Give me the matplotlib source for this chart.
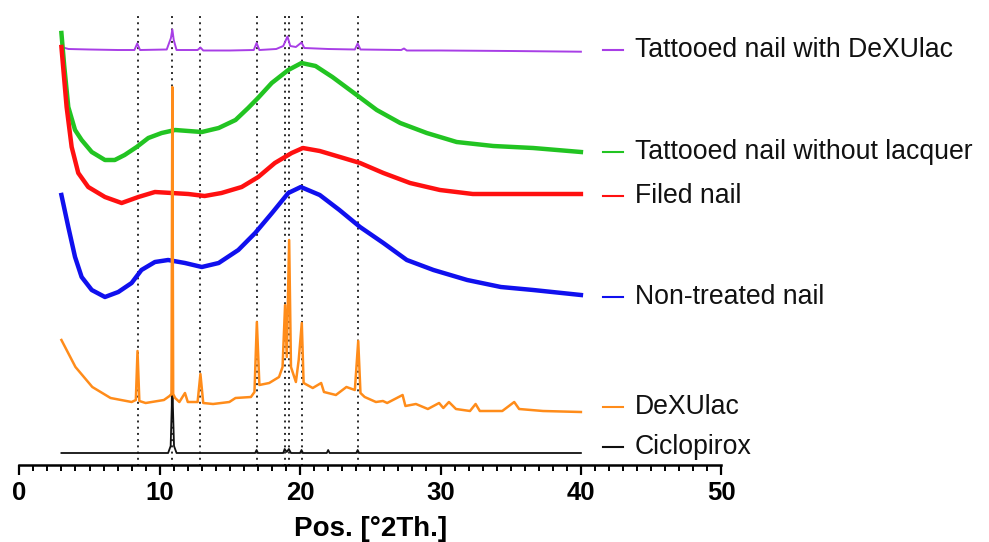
import matplotlib
matplotlib.use("Agg")
import matplotlib.pyplot as plt
from matplotlib.ticker import MultipleLocator

plt.rcParams['font.family'] = ['Liberation Sans', 'DejaVu Sans']

# stacked XRD patterns, intensity offsets in arbitrary units
purple_x = [3.0, 3.5, 5, 7, 8.2, 8.4, 8.6, 10.5, 10.8, 10.9, 11.0, 11.2, 12.7, 12.9, 13.1,
            15, 16.7, 16.9, 17.1, 18.3, 18.8, 19.1, 19.3, 19.7, 20.1, 20.3, 22, 23.9, 24.1,
            24.3, 27.2, 27.4, 27.6, 30, 35, 40]
purple_y = [419, 417, 416.5, 416, 416, 422.5, 416, 416.5, 428, 436.5, 426, 416, 416,
            418.5, 415.5, 415.5, 416, 423, 416, 417, 420, 429.5, 420, 419, 423.5, 418,
            417, 416.5, 422.5, 416.5, 416, 417.5, 415.5, 415.5, 415, 414.3]

green_x = [3.0, 3.2, 3.49, 3.97, 4.44, 5.16, 6.1, 6.8, 7.5, 8.36, 9.19, 10.14, 11.1, 12.04,
           13.0, 14.2, 15.4, 16.3, 17.0, 17.98, 19.16, 20.1, 21.1, 22.3, 24.03, 25.46, 27.13,
           29.02, 31.15, 33.76, 36.6, 40]
green_y = [433, 400, 359, 336, 326, 314, 306, 306, 311, 319, 328, 333, 336, 335,
           334, 338, 346, 358, 368, 383, 396, 403, 400, 389, 371, 356, 343,
           333, 324, 320, 318, 314]

red_x = [3.0, 3.37, 3.73, 4.2, 4.91, 6.1, 7.29, 8.48, 9.66, 10.85, 12.04, 13.2, 14.4, 15.84,
         17.02, 18.2, 19.4, 20.2, 21.4, 23.08, 24.27, 25.93, 27.83, 29.96, 32.3, 35.4, 40]
red_y = [419, 359, 319, 293, 279, 269, 263, 269, 274, 273, 272, 270, 273, 279,
         289, 303, 313, 318, 315, 308, 303, 293, 283, 276, 272, 272, 272]

blue_x = [3.0, 3.49, 3.97, 4.44, 5.16, 6.1, 7.05, 8.0, 8.7, 9.66, 10.6, 11.8, 13.0, 14.2,
          15.6, 16.8, 18.0, 19.16, 20.05, 21.4, 22.8, 24.27, 25.93, 27.6, 29.5, 31.9, 34.3,
          36.6, 40]
blue_y = [271, 239, 209, 189, 176, 169, 174, 183, 196, 204, 206, 203, 199, 203,
          216, 233, 253, 273, 279, 271, 256, 239, 223, 206, 196, 186, 179,
          176, 171]

dexulac_x = [3.0, 4.0, 5.2, 6.5, 8.0, 8.3, 8.42, 8.55, 9.0, 10.3, 10.7, 10.84, 10.9, 10.96,
             11.1, 11.4, 11.8, 12.0, 12.7, 12.9, 13.1, 13.8, 14.96, 15.4, 16.5, 16.75, 16.92,
             17.1, 17.8, 18.5, 18.75, 18.93, 19.05, 19.22, 19.35, 19.7, 19.9, 20.12, 20.25,
             20.9, 21.5, 21.7, 22.55, 23.3, 23.9, 24.14, 24.3, 24.6, 25.4, 25.9, 26.2, 27.3,
             27.5, 28.25, 29.1, 29.9, 30.2, 30.6, 31.1, 32.1, 32.5, 32.8, 34.4, 35.25, 35.6,
             37.3, 40]
dexulac_y = [126, 99, 79, 68, 64, 66, 115, 65, 63, 66, 70, 72, 379, 72,
             68, 64, 73, 64, 64, 92, 63, 62, 64, 68, 69, 74, 144,
             81, 83, 89, 99, 161, 109, 226, 99, 84, 106, 143, 83,
             78, 83, 74, 71, 79, 76, 125, 73, 69, 64, 65, 63, 71,
             60, 62, 57, 63, 58, 64, 57, 55, 62, 55, 55, 64, 57,
             55, 54]

cpx_x = [3.0, 10.6, 10.78, 10.86, 10.9, 10.94, 11.02, 11.2, 16.8, 16.9, 17.0, 18.8, 18.9,
         19.05, 19.2, 19.35, 20.0, 20.1, 20.2, 21.9, 22.0, 22.1, 24.0, 24.1, 24.2, 40]
cpx_y = [13, 13, 20, 60, 200, 60, 20, 13, 13, 16, 13, 13, 17,
         14, 17, 13, 13, 16, 13, 13, 16, 13, 13, 16, 13, 13]

ref_peaks = [8.42, 10.91, 12.9, 16.92, 18.93, 19.23, 20.12, 24.14]

names = ["Tattooed nail with DeXUlac", "Tattooed nail without lacquer", "Filed nail",
         "Non-treated nail", "DeXUlac", "Ciclopirox"]
label_y = [416, 314, 270, 169, 59, 19]
colors = ["#a83ee6", "#22c422", "#ff1010", "#1010ee", "#ff8c1a", "#101010"]

fig = plt.figure(figsize=(9.89, 5.42), dpi=100)
ax = fig.add_axes([19.3 / 989, 77.5 / 542, 702 / 989, 464.5 / 542])

ax.vlines(ref_peaks, 0, 451, colors="#2a2a2a", linestyles=(0, (1, 2.2)), linewidth=1.4, zorder=1)

series = [(purple_x, purple_y, 1.4), (green_x, green_y, 3.2), (red_x, red_y, 3.2),
          (blue_x, blue_y, 3.2), (dexulac_x, dexulac_y, 1.8), (cpx_x, cpx_y, 1.3)]
order = [0, 1, 2, 3, 5, 4]
for i in order:
    x, y, lw = series[i]
    ax.plot(x, y, color=colors[i], linewidth=lw, zorder=2 + order.index(i))

for name, yy, c in zip(names, label_y, colors):
    ax.plot([41.6, 43.0], [yy, yy], color=c, linewidth=1.5, clip_on=False)
    ax.text(43.85, yy, name, fontsize=19.2, va="center", ha="left", color="#111111")

ax.set_xlim(0, 50)
ax.set_ylim(1.5, 466)
ax.xaxis.set_major_locator(MultipleLocator(10))
ax.xaxis.set_minor_locator(MultipleLocator(1))
ax.tick_params(axis="x", which="major", length=7, width=1.6, direction="out", labelsize=18.5, pad=5)
ax.tick_params(axis="x", which="minor", length=4, width=1.4, direction="out")
for lab in ax.get_xticklabels():
    lab.set_fontweight("bold")
ax.set_yticks([])
for s in ["left", "right", "top"]:
    ax.spines[s].set_visible(False)
ax.spines["bottom"].set_linewidth(1.8)
ax.set_xlabel("Pos. [°2Th.]", fontsize=20, fontweight="bold", labelpad=8)

fig.savefig("out.png", dpi=100)
